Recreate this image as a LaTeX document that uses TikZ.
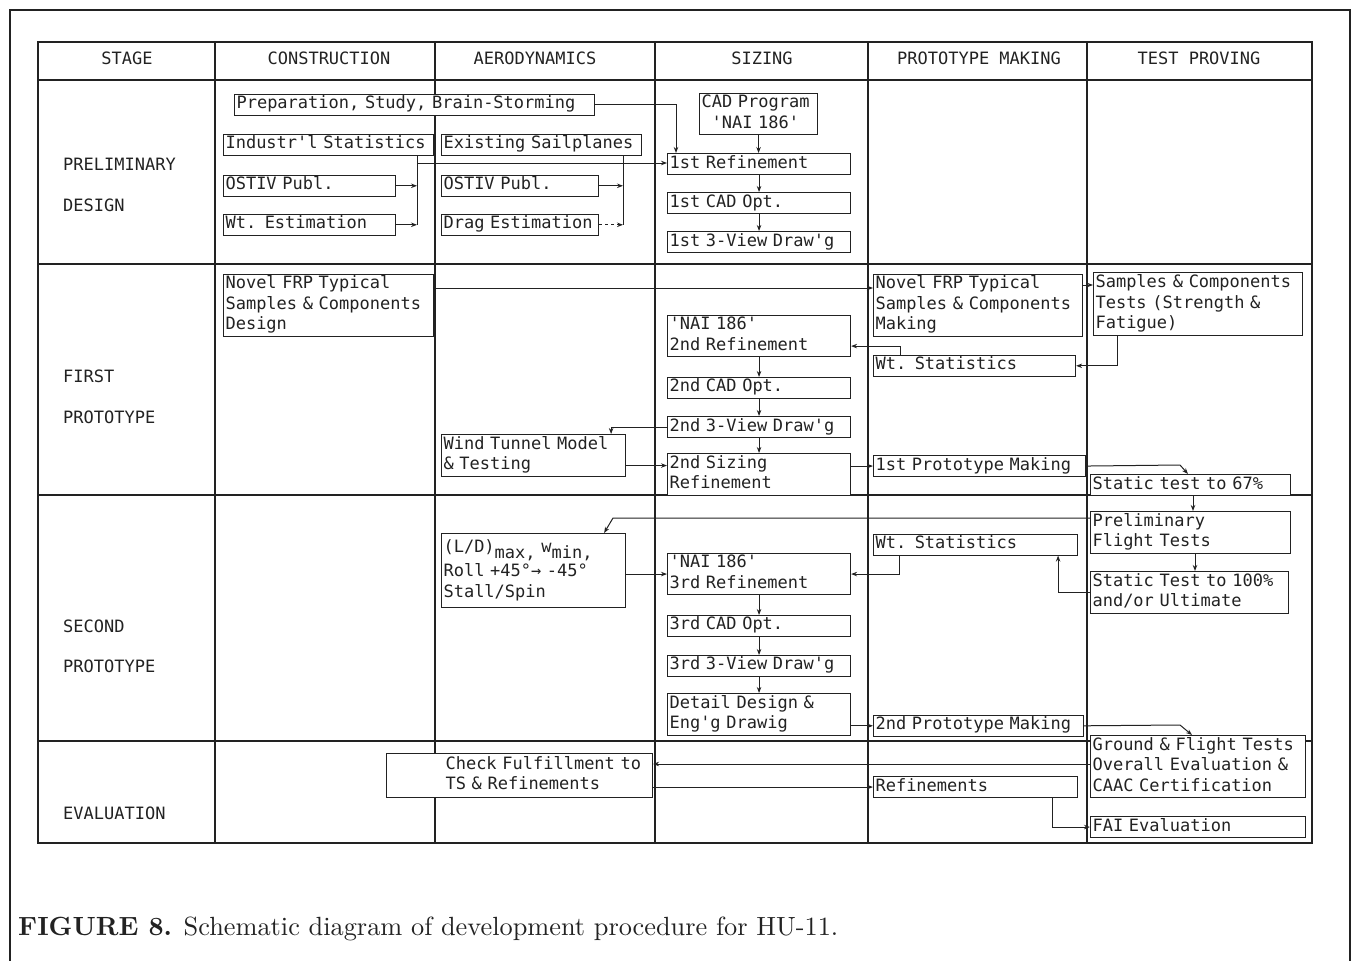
\documentclass[tikz,border=0pt]{standalone}
\usepackage{fontspec}
\usepackage{graphicx}
\newfontfamily\dmono[WordSpace={1,0,0}]{DejaVu Sans Mono}
\usetikzlibrary{arrows.meta}
\definecolor{ink}{HTML}{222222}
\newcommand\mfont{\dmono\fontsize{17}{20.5}\selectfont}
\tikzset{
 bx/.style={draw=ink, fill=white, line width=1.1pt, inner xsep=2pt, inner ysep=0pt, anchor=north west, align=left, font=\mfont, text=ink},
 arr/.style={draw=ink, line width=1pt, -{Stealth[length=6pt,width=4.5pt]}},
 ln/.style={draw=ink, line width=1pt},
 gridln/.style={draw=ink, line width=1.3pt},
 hd/.style={font=\mfont, text=ink, inner sep=0pt},
}
\newcommand\mybox[6]{%
 \pgfmathsetmacro\bw{#4-#2}\pgfmathsetmacro\bh{#5-#3}\pgfmathsetmacro\tw{#4-#2-4}%
 \node[bx,minimum width=\bw pt,minimum height=\bh pt,text width=\tw pt] (#1) at (#2,#3) {\strut#6\strut};}
\begin{document}
\begin{tikzpicture}[x=1pt,y=-1pt]
\useasboundingbox (0,0) rectangle (1361,961);
\clip (0,0) rectangle (1361,961);
% outer frame
\draw[ink,line width=1.2pt] (10,10) rectangle (1350,990);
% table
\draw[gridln] (38,42) rectangle (1312,843);
\foreach \yy in {80,264,495,741} \draw[gridln] (38,\yy) -- (1312,\yy);
\foreach \xx in {215,435,655,868,1087} \draw[gridln] (\xx,42) -- (\xx,843);
% headers
\node[hd] (hA) at (127,58) {STAGE};
\node[hd] (hB) at (329,58) {CONSTRUCTION};
\node[hd] (hC) at (535,58) {AERODYNAMICS};
\node[hd] (hD) at (762,58) {SIZING};
\node[hd] (hE) at (979,58) {PROTOTYPE MAKING};
\node[hd] (hF) at (1199,58) {TEST PROVING};
% stage labels
\node[hd,anchor=base west] (sA) at (63,170) {PRELIMINARY};
\node[hd,anchor=base west] (sB) at (63,211) {DESIGN};
\node[hd,anchor=base west] (sC) at (63,382) {FIRST};
\node[hd,anchor=base west] (sD) at (63,423) {PROTOTYPE};
\node[hd,anchor=base west] (sE) at (63,632) {SECOND};
\node[hd,anchor=base west] (sF) at (63,672) {PROTOTYPE};
\node[hd,anchor=base west] (sG) at (63,819) {EVALUATION};
% ---------- preliminary design
\mybox{prep}{234}{94}{594}{113}{Preparation, Study, Brain-Storming}
\mybox{indstat}{223}{134}{433}{154}{Industr'l Statistics}
\mybox{exsail}{441}{134}{641}{154}{Existing Sailplanes}
\mybox{ostivA}{223}{175}{395}{195}{OSTIV Publ.}
\mybox{wtest}{223}{214}{395}{234}{Wt. Estimation}
\mybox{ostivB}{441}{175}{598}{195}{OSTIV Publ.}
\mybox{drag}{441}{214}{598}{234}{Drag Estimation}
\mybox{cad}{699}{93}{817}{134}{CAD Program\\\hspace*{10pt}'NAI 186'}
\mybox{refA}{667}{153}{850}{174}{1st Refinement}
\mybox{cadA}{667}{192}{850}{213}{1st CAD Opt.}
\mybox{viewA}{667}{231}{850}{252}{1st 3-View Draw'g}
% ---------- first prototype
\mybox{novA}{223}{274}{433}{335}{Novel FRP Typical\\Samples \& Components\\Design}
\mybox{novB}{873}{274}{1082}{335}{Novel FRP Typical\\Samples \& Components\\Making}
\mybox{samp}{1093}{272}{1302}{335}{Samples \& Components\\Tests (Strength \&\\Fatigue)}
\mybox{refB}{667}{315}{850}{355}{'NAI 186'\\2nd Refinement}
\mybox{wtA}{873}{355}{1075}{375}{Wt. Statistics}
\mybox{cadB}{667}{377}{850}{397}{2nd CAD Opt.}
\mybox{viewB}{667}{416}{850}{437}{2nd 3-View Draw'g}
\mybox{wind}{441}{434}{625}{476}{Wind Tunnel Model\\\& Testing}
\mybox{sizB}{667}{453}{850}{495}{2nd Sizing\\Refinement}
\mybox{protA}{873}{455}{1085}{476}{1st Prototype Making}
\mybox{stat67}{1090}{474}{1290}{495}{Static test to 67\%}
% ---------- second prototype
\mybox{ld}{441}{533}{625}{607}{(L/D)\raisebox{-6pt}{max,} w\raisebox{-6pt}{min,}\\[2pt]Roll +45°→ -45°\\Stall/Spin}
\mybox{prelim}{1090}{511}{1290}{553}{Preliminary\\Flight Tests}
\mybox{wtB}{873}{534}{1077}{554}{Wt. Statistics}
\mybox{refC}{667}{553}{850}{594}{'NAI 186'\\3rd Refinement}
\mybox{stat100}{1090}{571}{1288}{613}{Static Test to 100\%\\and/or Ultimate}
\mybox{cadC}{667}{615}{850}{634}{3rd CAD Opt.}
\mybox{viewC}{667}{655}{850}{675}{3rd 3-View Draw'g}
\mybox{detail}{667}{693}{850}{735}{Detail Design \&\\Eng'g Drawig}
\mybox{protB}{873}{715}{1083}{735}{2nd Prototype Making}
% ---------- evaluation
\mybox{ground}{1090}{735}{1305}{797}{Ground \& Flight Tests\\Overall Evaluation \&\\CAAC Certification}
\mybox{check}{386}{753}{652}{797}{\hspace*{57pt}Check Fulfillment to\\\hspace*{57pt}TS \& Refinements}
\mybox{refine}{873}{776}{1077}{797}{Refinements}
\mybox{fai}{1090}{816}{1305}{837}{FAI Evaluation}
% ---------- connectors: preliminary
\coordinate (jA) at (417,163);
\coordinate (jB) at (623,163);
\draw[arr] (prep.east) -| ([xshift=9pt]refA.north west);
\draw[arr] (cad.south) -- (cad.south |- refA.north);
\draw[arr] (refA) -- (cadA);
\draw[arr] (cadA) -- (viewA);
\draw[ln] (indstat.south -| jA) -- (jA |- wtest.east);
\draw[arr] (ostivA.east) -- (ostivA.east -| jA);
\draw[arr] (wtest.east) -- (wtest.east -| jA);
\draw[ln] (exsail.south -| jB) -- (jB |- drag.east);
\draw[arr] (ostivB.east) -- (ostivB.east -| jB);
\draw[arr,dashed] (drag.east) -- (drag.east -| jB);
\draw[arr] (jA) -- (jA -| refA.west);
% ---------- connectors: first prototype
\draw[arr] ([yshift=-14pt]novA.north east) -- ([yshift=-14pt]novA.north east -| novB.west);
\draw[arr] ([yshift=-11pt]novB.north east) -- ([yshift=-11pt]novB.north east -| samp.west);
\draw[arr] ([xshift=24pt]samp.south west) |- (wtA.east);
\draw[arr] ([xshift=27pt]wtA.north west) |- ([yshift=11pt]refB.south east);
\draw[arr] (refB) -- (cadB);
\draw[arr] (cadB) -- (viewB);
\draw[arr] (viewB) -- (sizB);
\draw[arr] (viewB.west) -| ([xshift=-15pt]wind.north east);
\draw[arr] ([yshift=-10pt]wind.east) -- ([yshift=-10pt]wind.east -| sizB.west);
\draw[arr] (sizB.east |- protA.west) -- (protA.west);
\coordinate (kA) at (1180,465);
\draw[arr] (protA.east) -- (kA) -- ([xshift=98pt]stat67.north west);
\draw[arr] ([xshift=103pt]stat67.south west) -- ([xshift=103pt]prelim.north west);
% ---------- connectors: second prototype
\coordinate (kB) at (613,518);
\draw[arr] ([yshift=-7pt]prelim.north west) -- (kB) -- ([xshift=-22pt]ld.north east);
\draw[arr] ([xshift=26pt]wtB.south west) |- (refC.east);
\draw[arr] (stat100.west) -| ([xshift=-20pt]wtB.south east);
\draw[arr] ([xshift=105pt]prelim.south west) -- ([xshift=105pt]stat100.north west);
\draw[arr] (ld.east |- refC.west) -- (refC.west);
\draw[arr] (refC) -- (cadC);
\draw[arr] (cadC) -- (viewC);
\draw[arr] (viewC) -- (detail);
\draw[arr] (detail.east |- protB.west) -- (protB.west);
\coordinate (kC) at (1180,725);
\draw[arr] (protB.east) -- (kC) -- ([xshift=102pt]ground.north west);
% ---------- connectors: evaluation
\draw[arr] ([yshift=-29pt]ground.north west) -- ([yshift=-29pt]ground.north west -| check.east);
\draw[arr] (check.east |- refine.west) -- (refine.west);
\draw[arr] ([xshift=179pt]refine.south west) |- (fai.west);
% caption
\node[anchor=base west, inner sep=0pt, text=ink] (cap) at (18,935) {\resizebox{820pt}{!}{\textbf{FIGURE 8.} Schematic diagram of development procedure for HU-11.}};
\end{tikzpicture}
\end{document}
